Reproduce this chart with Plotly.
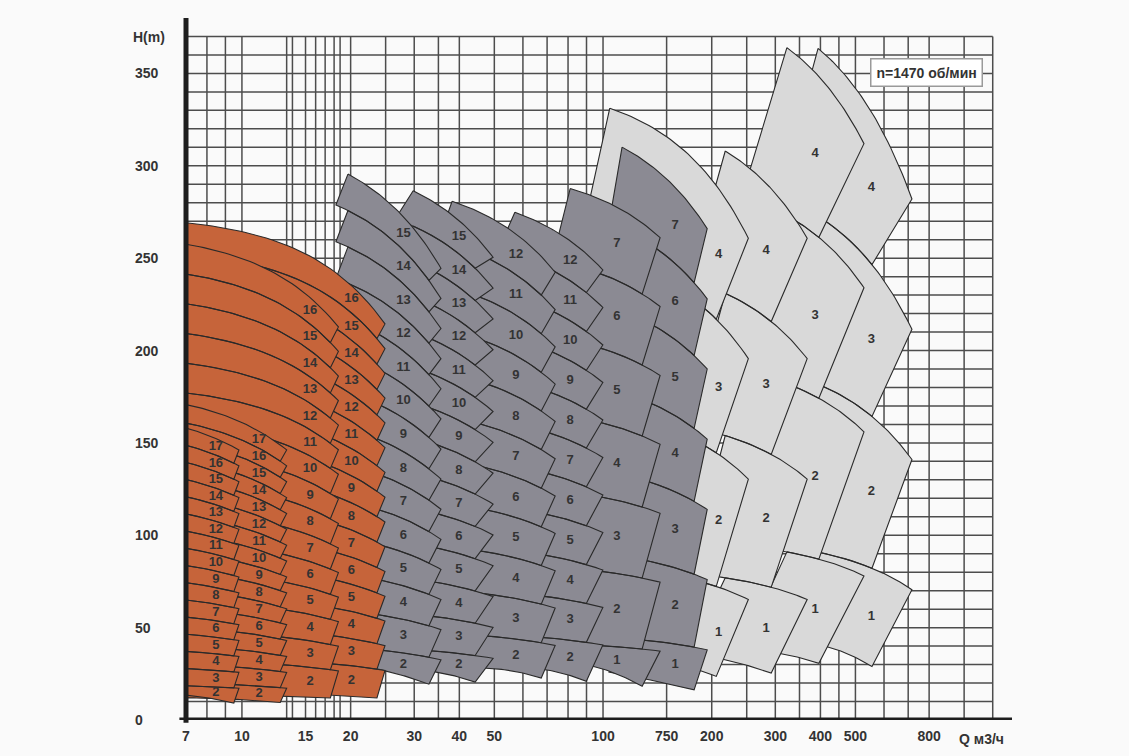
import numpy as np
import plotly.graph_objects as go

# ---------------- axes ----------------
q_ticks = [7, 10, 15, 20, 30, 40, 50, 100, 150, 200, 300, 400, 500, 800]
q_tick_text = ["7", "10", "15", "20", "30", "40", "50", "100", "750", "200", "300", "400", "500", "800"]
h_ticks = [0, 50, 100, 150, 200, 250, 300, 350]

q_grid = [8, 9, 10, 13.3, 13.8, 15, 16, 17, 18, 18.7, 20, 25, 30, 35, 40, 50, 60, 70, 80, 90,
          100, 150, 200, 250, 300, 350, 400, 450, 500, 600, 700, 800, 1000, 1200]
h_grid = list(range(10, 380, 10))
q_min, q_max, h_max = 7, 1357, 380
grid_q_end, grid_h_end = 1200, 370

# ---------------- pump columns (right to left: left columns lie on top) ----------------
col_family = ["light"] * 4 + ["dark"] * 6 + ["orange"] * 4
first_stage = [1, 1, 1, 1, 1, 1, 2, 2, 2, 2, 2, 2, 2, 2]
last_stage = [4, 4, 4, 4, 7, 7, 12, 12, 15, 15, 16, 16, 17, 17]
# head per stage: two points of the H-Q curve
curve_q1 = [394, 323, 218, 104.4, 112.9, 81.1, 57.0, 38.2, 29.8, 19.66, 7, 7, 7, 7]
curve_h1 = [90.9, 91.0, 77.0, 82.8, 44.3, 41.1, 22.9, 23.4, 19.1, 19.7, 16.83, 16.1, 10.05, 9.3]
curve_q2 = [717, 528, 367.6, 252.6, 194.3, 143.9, 99.9, 73.7, 49.6, 35.58, 24.9, 18.5, 13.3, 9.81]
curve_h2 = [70.5, 78.0, 65.2, 65.2, 38.0, 37.3, 20.3, 20.2, 16.7, 16.3, 13.4, 13.3, 8.6, 8.6]
# flow at the upper corners of every field and the lean of its side edges
edge_q_left = [394, 323, 218, 104.4, 112.9, 81.1, 57.0, 38.2, 29.8, 19.66, 6.5, 6.5, 6.5, 6.5]
edge_q_right = [717, 528, 367.6, 252.6, 194.3, 143.9, 99.9, 73.7, 49.6, 35.58, 24.9, 18.5, 13.3, 9.81]
edge_slant = [0.775, 0.75, 0.795, 0.815, 0.92, 0.892, 0.9, 0.915, 0.892, 0.926, 0.95, 0.95, 0.96, 0.968]
# lower boundary of the lowest field (head at left, middle, right)
floor_left = [42, 38, 36, 40, 26, 32, 28, 26, 27, 31, 16, 14, 12, 14]
floor_mid = [40, 36, 32, 35, 21.5, 28.5, 27.5, 28, 26, 27, 15, 13.5, 11.5, 12.5]
floor_right = [29, 30.7, 25.4, 23.6, 16.3, 18.3, 21, 22.7, 20.5, 19.4, 11.9, 11.9, 9.5, 9.2]
# flow where the stage numbers are written
label_q = [553.5, 386.8, 282.9, 209, 158.3, 109.3, 81.1, 57.4, 39.9, 28.0, 20.1, 15.44, 11.15, 8.47]

family_fill = {"light": "#d9d9d9", "dark": "#8b8a93", "orange": "#c6643a"}
outline = "#2a2a2a"
ink = "#333333"
bg = "#fafafa"
font_family = "Arial, Liberation Sans, sans-serif"


def stage_head(i, q):
    a = (curve_h1[i] - curve_h2[i]) / (curve_q2[i] ** 2 - curve_q1[i] ** 2)
    h0 = curve_h1[i] + a * curve_q1[i] ** 2
    return h0 - a * np.asarray(q, dtype=float) ** 2


def floor_head(i, q):
    s = edge_slant[i]
    lo, hi = np.log(edge_q_left[i] * s), np.log(edge_q_right[i] * s)
    t = (np.log(np.asarray(q, dtype=float)) - lo) / (hi - lo)
    l0 = 2 * (t - 0.5) * (t - 1)
    l1 = -4 * t * (t - 1)
    l2 = 2 * t * (t - 0.5)
    return floor_left[i] * l0 + floor_mid[i] * l1 + floor_right[i] * l2


def lower_edge(i, k, q):
    if k == first_stage[i]:
        return floor_head(i, q)
    return (k - 1) * stage_head(i, q)


fig = go.Figure()

# grid
gx, gy = [], []
for q in q_grid:
    gx += [q, q, None]
    gy += [0, grid_h_end, None]
for h in h_grid:
    gx += [q_min, grid_q_end, None]
    gy += [h, h, None]
fig.add_trace(go.Scatter(x=gx, y=gy, mode="lines", line=dict(color="#4d4d4d", width=1.5),
                         hoverinfo="skip", showlegend=False))

lab_x, lab_y, lab_t = [], [], []
for i in range(len(col_family)):
    ql, qr, s = edge_q_left[i], edge_q_right[i], edge_slant[i]
    xs, ys = [], []
    for k in range(first_stage[i], last_stage[i] + 1):
        tq = np.geomspace(ql, qr, 40)
        th = k * stage_head(i, tq)
        bq = np.geomspace(qr * s, ql * s, 40)
        bh = lower_edge(i, k, bq)
        xs += list(tq) + list(bq) + [tq[0], None]
        ys += list(th) + list(bh) + [th[0], None]
        lq = label_q[i]
        lab_x.append(lq)
        lab_y.append(float((k * stage_head(i, lq) + lower_edge(i, k, lq)) / 2))
        lab_t.append(str(k))
    fig.add_trace(go.Scatter(x=xs, y=ys, mode="lines", fill="toself",
                             fillcolor=family_fill[col_family[i]],
                             line=dict(color=outline, width=1.1),
                             hoverinfo="skip", showlegend=False))

fig.add_trace(go.Scatter(x=lab_x, y=lab_y, mode="text", text=lab_t,
                         textfont=dict(family=font_family, size=13, color=ink, weight="bold"),
                         hoverinfo="skip", showlegend=False))

# heavy axis lines
fig.add_shape(type="line", xref="paper", yref="paper", x0=0, x1=0, y0=-0.004, y1=1,
              line=dict(color="#1e1e1e", width=5))
fig.add_shape(type="line", xref="paper", yref="y", x0=-0.008, x1=1, y0=0, y1=0,
              line=dict(color="#1e1e1e", width=5))

# head labels, left aligned
for h in h_ticks:
    fig.add_annotation(x=-0.0645, y=h, xref="paper", yref="y", text=str(h), showarrow=False,
                       xanchor="left", yanchor="middle",
                       font=dict(family=font_family, size=14, color=ink, weight="bold"))

fig.add_annotation(x=-0.067, y=0.973, xref="paper", yref="paper", text="H(m)", showarrow=False,
                   xanchor="left", yanchor="middle",
                   font=dict(family=font_family, size=14, color=ink, weight="bold"))
fig.add_annotation(x=0.9625, y=-0.027, xref="paper", yref="paper", text="Q м3/ч", showarrow=False,
                   xanchor="center", yanchor="middle",
                   font=dict(family=font_family, size=14, color=ink, weight="bold"))
fig.add_annotation(x=0.897, y=0.923, xref="paper", yref="paper", text="n=1470 об/мин", showarrow=False,
                   xanchor="center", yanchor="middle", bgcolor="#ffffff", bordercolor="#9a9a9a",
                   borderwidth=1.5, borderpad=5,
                   font=dict(family=font_family, size=14, color=ink, weight="bold"))

fig.update_layout(
    width=1129, height=756,
    margin=dict(l=186, r=117, t=18, b=34),
    paper_bgcolor=bg, plot_bgcolor=bg,
    showlegend=False,
    xaxis=dict(type="log", range=[np.log10(q_min), np.log10(q_max)], showgrid=False, zeroline=False,
               showline=False, tickmode="array", tickvals=q_ticks, ticktext=q_tick_text,
               ticks="", ticklabelstandoff=6,
               tickfont=dict(family=font_family, size=14, color=ink, weight="bold")),
    yaxis=dict(range=[0, h_max], showgrid=False, zeroline=False, showline=False,
               showticklabels=False, ticks=""),
)

fig.write_html("out.html")
